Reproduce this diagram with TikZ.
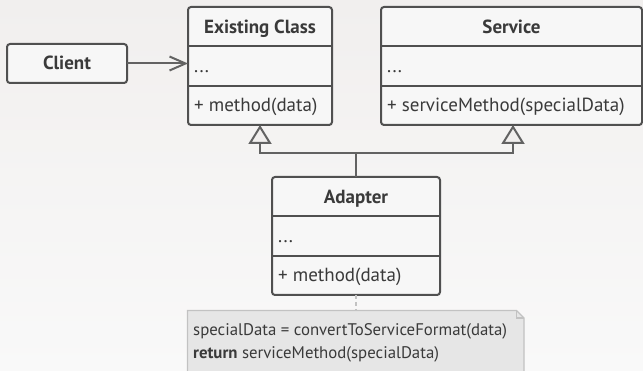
\documentclass[tikz,border=0pt]{standalone}
\usepackage{fontspec}
\setmainfont{PT Sans}
\usetikzlibrary{arrows.meta,calc}
\definecolor{bgtop}{HTML}{F1EFEE}
\definecolor{bgbot}{HTML}{F9F9F9}
\definecolor{edgec}{HTML}{505050}
\definecolor{linec}{HTML}{626262}
\definecolor{boxfill}{HTML}{F7F7F7}
\definecolor{txt}{HTML}{3A3A3A}
\definecolor{notefill}{HTML}{E6E6E6}
\definecolor{noteedge}{HTML}{C2C2C2}
\begin{document}
\begin{tikzpicture}[x=1pt,y=-1pt,
  box/.style={draw=edgec, line width=2pt, fill=boxfill, rounded corners=3pt, inner sep=0pt, outer sep=0pt},
  divider/.style={draw=edgec, line width=2pt},
  hdr/.style={font=\fontsize{19}{22}\selectfont\bfseries, text=txt, inner sep=0pt, anchor=base},
  member/.style={font=\fontsize{19}{22}\selectfont, text=txt, inner sep=0pt, anchor=base west},
  notetext/.style={font=\fontsize{16.8}{23}\selectfont, text=txt, inner sep=0pt, anchor=base west, align=left},
  assoc/.style={draw=linec, line width=2pt, -{Straight Barb[length=16pt, width=14pt, line width=2pt]}},
  inherit/.style={draw=linec, line width=2pt, -{Triangle[open, length=19pt, width=23pt, line width=2pt, fill=bgtop]}},
  plainline/.style={draw=linec, line width=2pt},
  notelink/.style={draw=noteedge, line width=1.5pt, dash pattern=on 4pt off 3pt},
]
\useasboundingbox (0,0) rectangle (643,371);
\shade[top color=bgtop, bottom color=bgbot] (0,0) rectangle (643,371);

% Client
\node[box, minimum width=120pt, minimum height=39pt] (client) at (67,63.5) {};
\node[hdr] (clientt) at (67,69.5) {Client};

% Existing Class
\node[box, minimum width=144pt, minimum height=118pt] (existing) at (260,66) {};
\draw[divider] ($(existing.north west)+(0,39)$) -- ($(existing.north east)+(0,39)$);
\draw[divider] ($(existing.north west)+(0,79)$) -- ($(existing.north east)+(0,79)$);
\node[hdr] (existingh) at (260,34) {Existing Class};
\node[member] (existinga) at (194,73) {...};
\node[member] (existingm) at (194,112) {+ method(data)};

% Service
\node[box, minimum width=261pt, minimum height=118pt] (service) at (511.5,66) {};
\draw[divider] ($(service.north west)+(0,39)$) -- ($(service.north east)+(0,39)$);
\draw[divider] ($(service.north west)+(0,79)$) -- ($(service.north east)+(0,79)$);
\node[hdr] (serviceh) at (511.5,34) {Service};
\node[member] (servicea) at (387,73) {...};
\node[member] (servicem) at (387,112) {+ serviceMethod(specialData)};

% Adapter
\node[box, minimum width=168pt, minimum height=118pt] (adapter) at (356,236) {};
\draw[divider] ($(adapter.north west)+(0,39)$) -- ($(adapter.north east)+(0,39)$);
\draw[divider] ($(adapter.north west)+(0,79)$) -- ($(adapter.north east)+(0,79)$);
\node[hdr] (adapterh) at (356,204) {Adapter};
\node[member] (adaptera) at (278,243) {...};
\node[member] (adapterm) at (278,282) {+ method(data)};

% Connectors
\draw[assoc] (client.east) -- (existing.west |- client.east);
\coordinate (join) at (356,153);
\draw[plainline] (adapter.north) -- (join);
\draw[inherit] (join) -| (existing.south);
\draw[inherit] (join) -| ($(service.south)+(1.5,0)$);

% Note
\begin{scope}
\clip (0,0) rectangle (643,371);
\coordinate (notetop) at (356,310.5);
\draw[draw=noteedge, line width=1.3pt, fill=notefill]
  (187.5,380) -- (187.5,310.5) -- (516.5,310.5) -- (524,318) -- (524,380);
\draw[draw=noteedge, line width=1.3pt] (516.5,310.5) -- (516.5,318) -- (524,318);
\node[notetext] (note) at (193,359) {specialData = convertToServiceFormat(data)\\\textbf{return} serviceMethod(specialData)};
\end{scope}
\draw[notelink] (adapter.south) -- (notetop);
\end{tikzpicture}
\end{document}
